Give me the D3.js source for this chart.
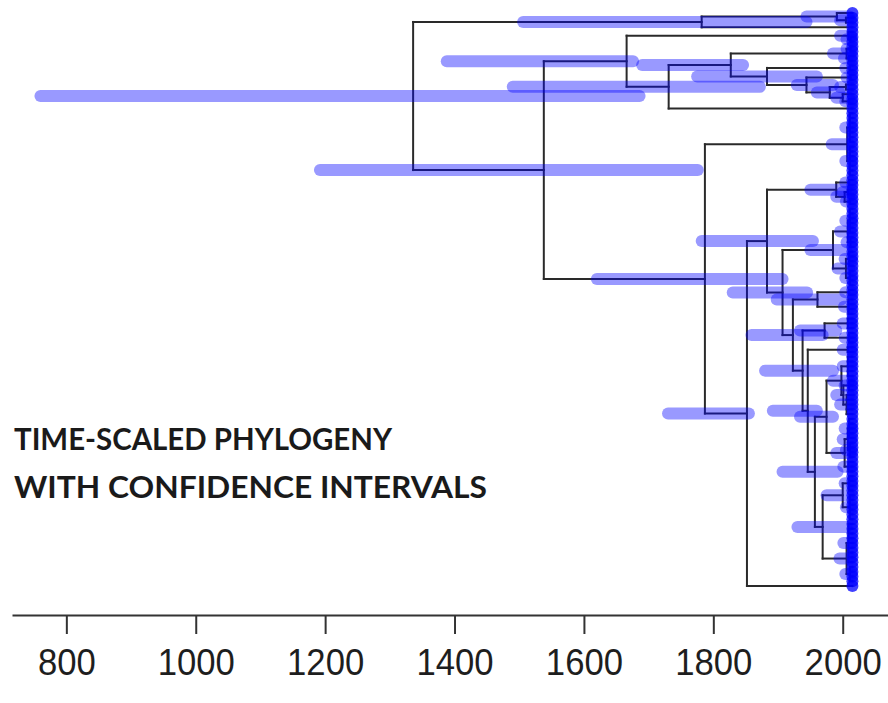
<!DOCTYPE html>
<html>
<head>
<meta charset="utf-8">
<script src="https://cdn.jsdelivr.net/npm/d3@7"></script>
<style>
  html, body { margin: 0; padding: 0; background: #ffffff; }
  svg { display: block; }
</style>
</head>
<body>
<svg id="chart" width="888" height="703"></svg>
<script>
// ---- Data ---------------------------------------------------------------
// Tree topology in Newick form: internal nodes carry a label, every leaf is "t".
const treeNewick = [
  "(((t,(t,t)A1i)A1,t)A,",
  "(((t,(t,t)c1i)c1,",
  "((((t,t)f1a,(t,t)f1b)f1,((t,t)g1,((t,t)h1,((t,t)h2a,(t,(t,t)h2c)h2b)h2)H)G)F,t)E)C,",
  "(((t,t,t,t,t,t,t)d1a,(t,t,t,t,t,t,t)d1b)d1,",
  "((((t,t)Ka,((t,t)Kb1,(t,t)Kb2)Kb)K,",
  "((((t,t,t,t,t,t)m1a,(t,t,t)m1b)m1,((t,t,t,t)m2a,(t,t,t,t)m2b)m2)M,",
  "(((t,t)n1a,(t,t,t,t)n1b)n1,",
  "(((t,t,t)o1a,(t,t,t)o1b)o1,",
  "((t,t)q1,",
  "((((t,t,t,t,t)r1a,((t,t,t)r1b1,(t,t,t,t,t)r1b2)r1b)r1,(((t,t,t,t,t)r2a1,(t,t,t,t)r2a2)r2a,(t,t,t)r2b)r2)R,",
  "(((t,t,t,t)s1a,(t,t,t,t,t,t)s1b)s1,((t,t,t,t,t,t,t,t,t)s2a,(t,t,t,t)s2b)s2)S)Q",
  ")P)n2)N)L)J,t)I)D)B)root;"
].join("");

// Internal nodes: estimated divergence year and its confidence interval.
const nodeNames = ["root","A","A1","A1i","B","C","c1","c1i","E","F","f1","f1a","f1b","G","g1","H","h1","h2","h2a","h2b","h2c",
  "D","d1","d1a","d1b","I","J","K","Ka","Kb","Kb1","Kb2","L","M","m1","m1a","m1b","m2","m2a","m2b",
  "N","n1","n1a","n1b","n2","o1","o1a","o1b","P","q1","Q","R","r1","r1a","r1b","r1b1","r1b2",
  "r2","r2a","r2a1","r2a2","r2b","S","s1","s1a","s1b","s2","s2a","s2b"];
const nodeYears = [1336,1782,1991,2005,1538,1666,2009,2012,1731,1827,2006,2012,2010,1883,2011,1944,2012,1980,2005,2000,2010,
  1787,2007,2011,2011,1852,1883,1990,2010,2003,2008,2011,1907,1985,2008,2011,2012,2005,2010,2011,
  1923,1961,2010,2009,1938,1972,2008,2010,1946,2008,1957,1975,1998,2008,2001,2010,2006,
  2003,2008,2010,2011,2009,1969,2000,2010,2011,2006,2009,2011];
const ciLower = [760,1506,1944,1996,1192,1388,1996,2006,1490,1690,1985,2006,2002,1775,2004,1929,2006,1960,1996,1990,2004,
  1620,1983,2004,2004,1730,1782,1950,2004,1990,2000,2005,1830,1950,1996,2004,2006,1992,2003,2004,
  1859,1898,2004,2002,1880,1934,2000,2003,1892,2000,1907,1934,1985,2000,1990,2003,1996,
  1990,2000,2003,2005,2001,1930,1975,2003,2005,1995,2001,2004];
const ciUpper = [1686,1944,2010,2012,1776,1676,2013,2014,1872,1846,2012,2014,2013,1960,2014,1985,2014,1995,2011,2010,2014,
  1907,2010,2014,2014,1855,1954,2005,2014,2010,2013,2014,1945,2005,2012,2014,2014,2010,2014,2014,
  1969,1998,2014,2013,1985,1990,2013,2014,1960,2013,1992,1985,2010,2013,2010,2014,2012,
  2012,2013,2014,2014,2013,2006,2010,2014,2014,2012,2013,2014];
const tipYear = 2015;

const tickYears = [800, 1000, 1200, 1400, 1600, 1800, 2000];
const titleLines = ["TIME-SCALED PHYLOGENY", "WITH CONFIDENCE INTERVALS"];

// ---- Newick parser ------------------------------------------------------
function parseNewick(s) {
  let i = 0;
  function readLabel() {
    const start = i;
    while (i < s.length && !"(),;".includes(s[i])) i++;
    return s.slice(start, i).trim();
  }
  function readNode() {
    const n = { children: [] };
    if (s[i] === "(") {
      i++;
      n.children.push(readNode());
      while (s[i] === ",") { i++; n.children.push(readNode()); }
      i++; // closing ')'
    }
    n.name = readLabel();
    return n;
  }
  return readNode();
}

// ---- Layout -------------------------------------------------------------
const svg = d3.select("#chart");

const root = d3.hierarchy(parseNewick(treeNewick), d => d.children.length ? d.children : null);
const leaves = root.leaves();

const yearOf = new Map(nodeNames.map((n, i) => [n, nodeYears[i]]));
const ciOf = new Map(nodeNames.map((n, i) => [n, [ciLower[i], ciUpper[i]]]));

const x = d3.scaleLinear().domain([716, 2070]).range([12, 888]);
const y = d3.scaleLinear().domain([0, leaves.length - 1]).range([13, 586]);

leaves.forEach((leaf, i) => { leaf.py = y(i); leaf.px = x(tipYear); });
root.eachAfter(n => {
  if (n.children) {
    n.py = (n.children[0].py + n.children[n.children.length - 1].py) / 2;
    n.px = x(yearOf.get(n.data.name));
  }
});
const internals = root.descendants().filter(n => n.children);

// ---- Branches (rectangular cladogram) ----------------------------------
const branchG = svg.append("g")
  .attr("fill", "none")
  .attr("stroke", "#2a2a2a")
  .attr("stroke-width", 2)
  .attr("stroke-linecap", "square");

internals.forEach(n => {
  const first = n.children[0], last = n.children[n.children.length - 1];
  branchG.append("line")
    .attr("x1", n.px).attr("x2", n.px)
    .attr("y1", first.py).attr("y2", last.py);
  n.children.forEach(c => {
    branchG.append("line")
      .attr("x1", n.px).attr("x2", c.px)
      .attr("y1", c.py).attr("y2", c.py);
  });
});

// ---- Confidence interval bars ------------------------------------------
svg.append("g")
  .selectAll("line")
  .data(internals)
  .join("line")
  .attr("x1", d => x(ciOf.get(d.data.name)[0]))
  .attr("x2", d => x(ciOf.get(d.data.name)[1]))
  .attr("y1", d => d.py)
  .attr("y2", d => d.py)
  .attr("stroke", "#0000ff")
  .attr("stroke-opacity", 0.4)
  .attr("stroke-width", 12)
  .attr("stroke-linecap", "round");

// ---- Tip markers --------------------------------------------------------
svg.append("g")
  .selectAll("circle")
  .data(leaves)
  .join("circle")
  .attr("cx", d => d.px)
  .attr("cy", d => d.py)
  .attr("r", 6)
  .attr("fill", "#0000ff")
  .attr("fill-opacity", 0.75);

// ---- Time axis ----------------------------------------------------------
const axisG = svg.append("g")
  .attr("transform", "translate(0,615)")
  .call(d3.axisBottom(x)
    .tickValues(tickYears)
    .tickFormat(d3.format("d"))
    .tickSize(19)
    .tickSizeOuter(0)
    .tickPadding(15));

axisG.select(".domain").attr("stroke", "#333").attr("stroke-width", 2);
axisG.selectAll(".tick line").attr("stroke", "#333").attr("stroke-width", 2);
axisG.selectAll(".tick text")
  .attr("fill", "#1e1e1e")
  .style("font-family", "'Liberation Sans', Arial, sans-serif")
  .style("font-size", "37px")
  .attr("textLength", d => String(d).length * 19.3)
  .attr("lengthAdjust", "spacingAndGlyphs");

// ---- Title --------------------------------------------------------------
const titleWidths = [378, 473];
svg.append("g")
  .selectAll("text")
  .data(titleLines)
  .join("text")
  .attr("x", 14)
  .attr("y", (d, i) => 450 + i * 48)
  .attr("textLength", (d, i) => titleWidths[i])
  .attr("lengthAdjust", "spacingAndGlyphs")
  .attr("fill", "#1a1a1a")
  .style("font-family", "Lato, 'Open Sans', sans-serif")
  .style("font-weight", "bold")
  .style("font-size", "31px")
  .text(d => d);
</script>
</body>
</html>
